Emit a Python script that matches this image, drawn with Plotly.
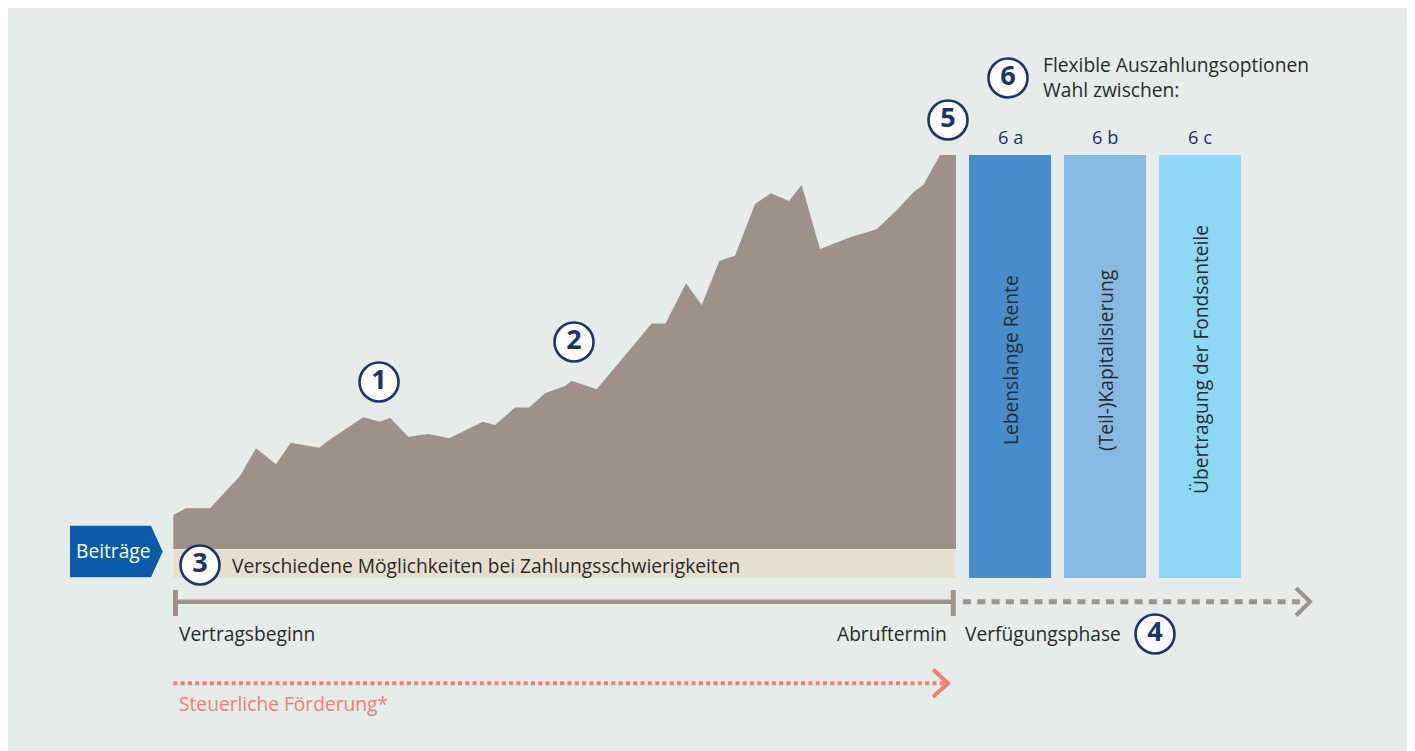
import plotly.graph_objects as go

# ---------------- data ----------------
# growth curve of the contract value (x position along timeline, value above the band)
AREA_X = [173.3, 186, 210, 240, 256, 276, 290.7, 319.3, 326.7, 363.3, 380, 390, 408.3,
          428.3, 449.3, 482.7, 495, 515, 529, 545, 565, 571.7, 596.7, 651.7, 665.5,
          686, 701.7, 719.3, 735, 755, 771, 789, 801.7, 820, 850, 876.7, 897.7, 913.3,
          923.3, 940, 956]
AREA_Y = [34, 40.7, 40.7, 73, 100.7, 84.7, 106.3, 101.3, 107.3, 131.7, 127.3, 131.3, 112.3,
          115, 110.7, 127.3, 124, 141.5, 141.5, 155.7, 163, 168.3, 159.7, 225.5, 225.5,
          265.7, 244, 288, 293.3, 345, 355.7, 348, 364, 300, 311.7, 319.7, 339.7, 356.7,
          364, 394, 394]

OPTION_TAGS = ["6 a", "6 b", "6 c"]
OPTION_LABELS = ["Lebenslange Rente", "(Teil-)Kapitalisierung", "Übertragung der Fondsanteile"]
OPTION_X = [1010, 1105, 1200]
OPTION_TOP = [394, 394, 394]
OPTION_COLORS = ["#478DCB", "#88B9E3", "#8ED8F6"]

MARKER_NUMS = ["1", "2", "3", "4", "5", "6"]

# ---------------- helpers (pixel -> axis) ----------------
BASE = 549.0  # pixel row of the band top (value 0)


def Y(py):
    return BASE - py


PAGE_W, PAGE_H = 1415, 751
OFF = 8  # page body margin
NAVY = "#1B3568"
GREY = "#A09389"
SALMON = "#F4806F"
TXT = "#2B2B2B"
FONT = "Open Sans"
FS = 19.2

marker_px = [(379, 382), (574, 342), (200, 565), (1155, 634), (948, 120), (1008, 78)]

fig = go.Figure()

# area
fig.add_trace(go.Scatter(x=AREA_X, y=AREA_Y, mode="lines", fill="tozeroy",
                         fillcolor="#9E9189", line=dict(width=0, color="#9E9189"),
                         hoverinfo="skip", showlegend=False))

# option bars
bar_base = Y(577.7)
fig.add_trace(go.Bar(x=OPTION_X, y=[t - bar_base for t in OPTION_TOP], base=bar_base,
                     width=82, marker=dict(color=OPTION_COLORS, line=dict(width=0)),
                     hoverinfo="skip", showlegend=False))

# numbered circles
fig.add_trace(go.Scatter(
    x=[p[0] for p in marker_px], y=[Y(p[1]) for p in marker_px],
    mode="markers+text", text=["<b>%s</b>" % n for n in MARKER_NUMS],
    textposition="middle center",
    textfont=dict(family=FONT, size=27, color=NAVY),
    marker=dict(size=39, color="white", line=dict(width=2.6, color=NAVY)),
    hoverinfo="skip", showlegend=False))

shapes = []
# panel background
shapes.append(dict(type="rect", xref="x", yref="y", x0=6, x1=1411, y0=Y(7), y1=Y(760),
                   fillcolor="#E6ECE9", line=dict(width=0), layer="below"))
# beige band
shapes.append(dict(type="rect", xref="x", yref="y", x0=173.3, x1=955, y0=Y(550), y1=Y(577.7),
                   fillcolor="#E6DFCF", line=dict(width=0), layer="below"))
# Beiträge arrow box
shapes.append(dict(type="path", xref="x", yref="y",
                   path="M70,%f L151,%f L162.7,%f L151,%f L70,%f Z" % (
                       Y(525.7), Y(525.7), Y(551.5), Y(577.3), Y(577.3)),
                   fillcolor="#0A5CAB", line=dict(width=0), layer="below"))
# timeline solid
shapes.append(dict(type="line", xref="x", yref="y", x0=175, x1=953, y0=Y(601.7), y1=Y(601.7),
                   line=dict(color=GREY, width=4.5), layer="below"))
for tx in (175.5, 953.3):
    shapes.append(dict(type="line", xref="x", yref="y", x0=tx, x1=tx, y0=Y(590), y1=Y(616),
                       line=dict(color=GREY, width=5), layer="below"))
# dashed continuation
shapes.append(dict(type="line", xref="x", yref="y", x0=963, x1=1306, y0=Y(601.7), y1=Y(601.7),
                   line=dict(color=GREY, width=5, dash="8px,6.3px"), layer="below"))
shapes.append(dict(type="path", xref="x", yref="y",
                   path="M1296,%f L1310,%f L1296,%f" % (Y(588), Y(601.7), Y(615.5)),
                   line=dict(color=GREY, width=4), layer="below"))
# salmon dotted arrow
shapes.append(dict(type="line", xref="x", yref="y", x0=173.3, x1=946, y0=Y(683.3), y1=Y(683.3),
                   line=dict(color=SALMON, width=4, dash="4px,3.3px"), layer="below"))
shapes.append(dict(type="path", xref="x", yref="y",
                   path="M933,%f L948,%f L933,%f" % (Y(669.5), Y(683.3), Y(697)),
                   line=dict(color=SALMON, width=4), layer="below"))

ann = []


def txt(x, py, s, size=FS, color=TXT, xanchor="left", angle=0):
    ann.append(dict(x=x, y=Y(py), xref="x", yref="y", text=s, showarrow=False,
                    xanchor=xanchor, yanchor="middle", textangle=angle,
                    font=dict(family=FONT, size=size, color=color)))


txt(113, 550, "Beiträge", color="white", xanchor="center")
txt(230, 565, "Verschiedene Möglichkeiten bei Zahlungsschwierigkeiten")
txt(177, 633, "Vertragsbeginn")
txt(949, 633, "Abruftermin", xanchor="right")
txt(963, 633, "Verfügungsphase")
txt(177, 703, "Steuerliche Förderung*", color=SALMON)
ann.append(dict(x=1041, y=Y(76.5), xref="x", yref="y",
                text="Flexible Auszahlungsoptionen<br>Wahl zwischen:", showarrow=False,
                xanchor="left", yanchor="middle", align="left",
                font=dict(family=FONT, size=FS, color=TXT)))
for xx, tag, lab in zip(OPTION_X, OPTION_TAGS, OPTION_LABELS):
    txt(xx, 136, tag, size=18.3, color=NAVY, xanchor="center")
    ann.append(dict(x=xx, y=Y(360), xref="x", yref="y", text=lab, showarrow=False,
                    xanchor="center", yanchor="middle", textangle=-90,
                    font=dict(family=FONT, size=FS, color=TXT)))

fig.update_layout(
    width=PAGE_W - OFF, height=PAGE_H - OFF, margin=dict(l=0, r=0, t=0, b=0),
    paper_bgcolor="white", plot_bgcolor="white",
    xaxis=dict(range=[OFF, PAGE_W], visible=False, fixedrange=True),
    yaxis=dict(range=[Y(PAGE_H), Y(OFF)], visible=False, fixedrange=True),
    shapes=shapes, annotations=ann, showlegend=False, bargap=0,
)

fig.write_html("out.html")
